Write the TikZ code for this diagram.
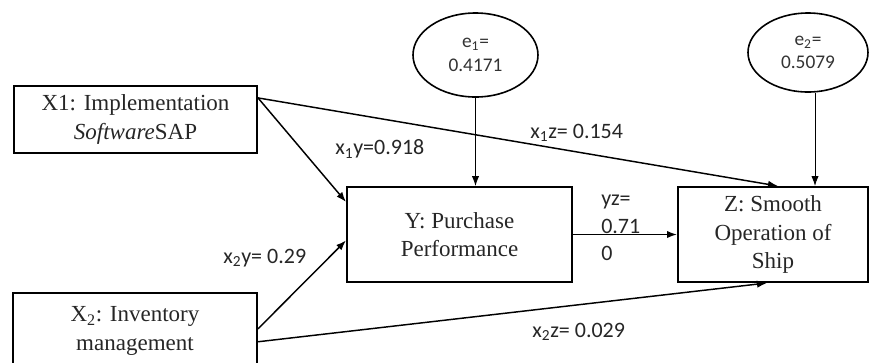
\documentclass[tikz,border=0pt]{standalone}
\usepackage{fontspec}
\setmainfont{Liberation Serif}
\newfontfamily\lblfont{Carlito}
\usetikzlibrary{shapes.geometric,arrows.meta}

\begin{document}
\begin{tikzpicture}[x=0.75pt,y=0.75pt,yscale=-1,xscale=1,
        varbox/.style={draw,line width=1.5pt,align=center,inner sep=0pt,text=black!85,font=\fontsize{17.25}{21.3}\selectfont},
        errnode/.style={draw,ellipse,line width=1.2pt,align=center,inner sep=0pt,text=black!80,font=\lblfont\fontsize{14.5}{17.5}\selectfont},
        coef/.style={anchor=west,inner sep=0pt,text=black!85,font=\lblfont\fontsize{16.5}{20.5}\selectfont},
        pathto/.style={line width=1.1pt,-{Latex[length=7.5pt,width=5.5pt]}},
        errto/.style={line width=0.7pt,-{Latex[length=7.5pt,width=5.5pt]}}]
        \useasboundingbox (0,0) rectangle (869,362);

        % Boxes
        \node [varbox,minimum width=182.25pt,minimum height=50.25pt] (x1) at (135.5,119.5) {X1: Implementation\\\textit{Software}SAP};
        \node [varbox,minimum width=183pt,minimum height=57pt] (x2) at (135,331) {X\textsubscript{2}: Inventory\\management};
        \node [varbox,minimum width=168.75pt,minimum height=71.25pt] (y) at (459.5,234.5) {Y: Purchase\\Performance};
        \node [varbox,minimum width=142.5pt,minimum height=71.25pt] (z) at (773,234.5) {Z: Smooth\\Operation of\\Ship};

        % Error terms
        \node [errnode,minimum width=93.75pt,minimum height=63pt] (e1) at (475.5,55) {e\textsubscript{1}=\\0.4171};
        \node [errnode,minimum width=90pt,minimum height=59.25pt] (e2) at (808,52.5) {e\textsubscript{2}=\\0.5079};

        % Paths
        \draw [pathto] (x1.10) -- ([xshift=3.75pt]z.north);
        \draw [pathto] (x1.10) -- (y.164);
        \draw [pathto] (x2.1) -- (y.183);
        \draw [pathto] (x2.-5) -- ([xshift=-4.5pt]z.south);
        \draw [pathto] (y.east) -- (z.west);
        \draw [errto] (e1.south) -- (e1.south |- y.north);
        \draw [errto] ([xshift=5.25pt]e2.south) -- ([xshift=5.25pt]e2.south |- z.north);

        % Coefficients
        \node [coef] (lx1y) at (335,149) {x\textsubscript{1}y=0.918};
        \node [coef] (lx1z) at (530,133) {x\textsubscript{1}z= 0.154};
        \node [coef] (lx2y) at (223,258) {x\textsubscript{2}y= 0.29};
        \node [coef] (lx2z) at (532,332) {x\textsubscript{2}z= 0.029};
        \node [coef,align=left] (lyz) at (601,228) {yz=\\0.71\\0};

\end{tikzpicture}
\end{document}
